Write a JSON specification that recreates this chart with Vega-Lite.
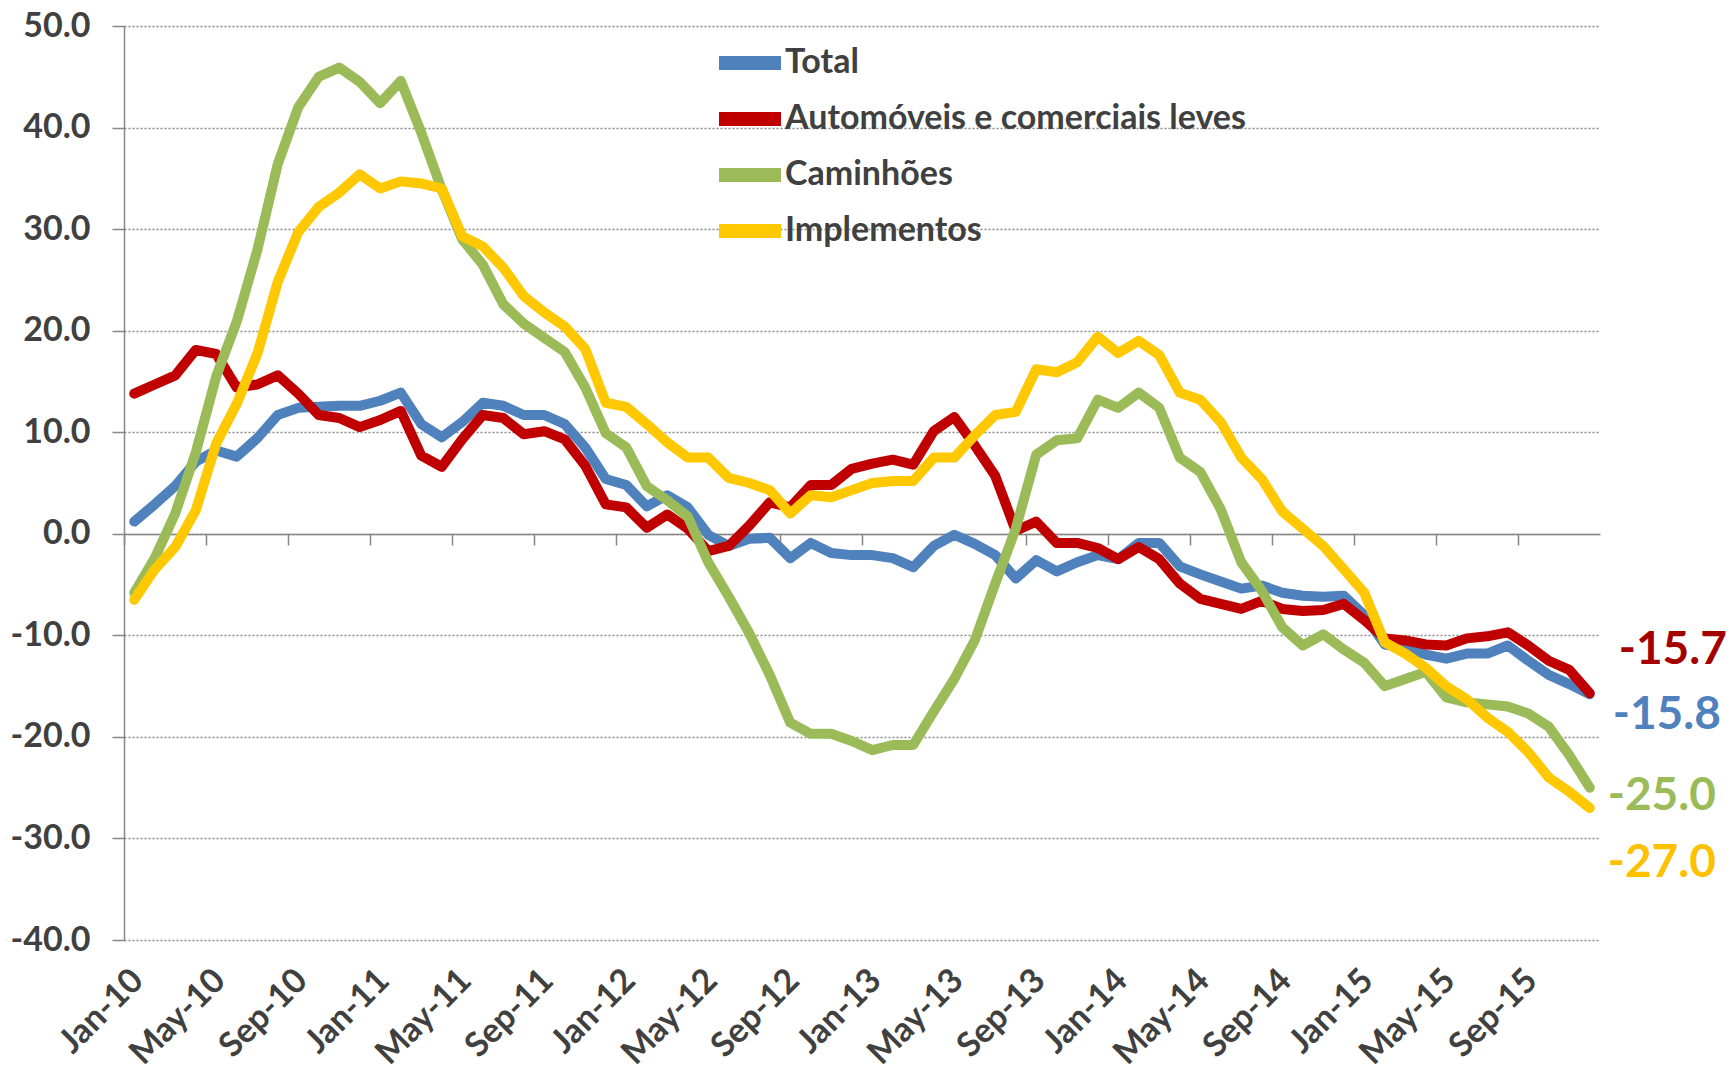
{
  "$schema": "https://vega.github.io/schema/vega-lite/v6.json",
  "width": 1476,
  "height": 914,
  "autosize": {"type": "none"},
  "padding": {"left": 124, "top": 26, "right": 131, "bottom": 131},
  "background": "white",
  "config": {"view": {"stroke": null}},
  "data": {"values": [
    {"m":"Jan-10","Total":1.2,"Automóveis e comerciais leves":13.8,"Caminhões":-5.8,"Implementos":-6.5},
    {"m":"Feb-10","Total":2.9,"Automóveis e comerciais leves":14.7,"Caminhões":-2.4,"Implementos":-3.5},
    {"m":"Mar-10","Total":4.7,"Automóveis e comerciais leves":15.6,"Caminhões":2.0,"Implementos":-1.3},
    {"m":"Apr-10","Total":7.1,"Automóveis e comerciais leves":18.1,"Caminhões":8.0,"Implementos":2.3},
    {"m":"May-10","Total":8.2,"Automóveis e comerciais leves":17.7,"Caminhões":15.5,"Implementos":8.9},
    {"m":"Jun-10","Total":7.6,"Automóveis e comerciais leves":14.4,"Caminhões":20.9,"Implementos":12.8},
    {"m":"Jul-10","Total":9.4,"Automóveis e comerciais leves":14.7,"Caminhões":27.9,"Implementos":17.7},
    {"m":"Aug-10","Total":11.7,"Automóveis e comerciais leves":15.6,"Caminhões":36.4,"Implementos":24.8},
    {"m":"Sep-10","Total":12.4,"Automóveis e comerciais leves":13.8,"Caminhões":42.0,"Implementos":29.7},
    {"m":"Oct-10","Total":12.5,"Automóveis e comerciais leves":11.7,"Caminhões":45.0,"Implementos":32.2},
    {"m":"Nov-10","Total":12.6,"Automóveis e comerciais leves":11.4,"Caminhões":45.9,"Implementos":33.6},
    {"m":"Dec-10","Total":12.6,"Automóveis e comerciais leves":10.5,"Caminhões":44.5,"Implementos":35.4},
    {"m":"Jan-11","Total":13.1,"Automóveis e comerciais leves":11.2,"Caminhões":42.4,"Implementos":34.0},
    {"m":"Feb-11","Total":13.9,"Automóveis e comerciais leves":12.1,"Caminhões":44.6,"Implementos":34.7},
    {"m":"Mar-11","Total":10.8,"Automóveis e comerciais leves":7.7,"Caminhões":39.5,"Implementos":34.5},
    {"m":"Apr-11","Total":9.5,"Automóveis e comerciais leves":6.6,"Caminhões":33.9,"Implementos":34.0},
    {"m":"May-11","Total":11.0,"Automóveis e comerciais leves":9.3,"Caminhões":29.0,"Implementos":29.3},
    {"m":"Jun-11","Total":12.9,"Automóveis e comerciais leves":11.7,"Caminhões":26.5,"Implementos":28.3},
    {"m":"Jul-11","Total":12.6,"Automóveis e comerciais leves":11.4,"Caminhões":22.6,"Implementos":26.2},
    {"m":"Aug-11","Total":11.7,"Automóveis e comerciais leves":9.8,"Caminhões":20.7,"Implementos":23.4},
    {"m":"Sep-11","Total":11.7,"Automóveis e comerciais leves":10.1,"Caminhões":19.3,"Implementos":21.8},
    {"m":"Oct-11","Total":10.8,"Automóveis e comerciais leves":9.3,"Caminhões":17.9,"Implementos":20.4},
    {"m":"Nov-11","Total":8.5,"Automóveis e comerciais leves":6.7,"Caminhões":14.4,"Implementos":18.2},
    {"m":"Dec-11","Total":5.4,"Automóveis e comerciais leves":2.9,"Caminhões":9.9,"Implementos":12.9},
    {"m":"Jan-12","Total":4.8,"Automóveis e comerciais leves":2.6,"Caminhões":8.5,"Implementos":12.5},
    {"m":"Feb-12","Total":2.7,"Automóveis e comerciais leves":0.6,"Caminhões":4.7,"Implementos":10.8},
    {"m":"Mar-12","Total":3.8,"Automóveis e comerciais leves":1.9,"Caminhões":3.3,"Implementos":9.0},
    {"m":"Apr-12","Total":2.6,"Automóveis e comerciais leves":0.5,"Caminhões":1.7,"Implementos":7.5},
    {"m":"May-12","Total":-0.1,"Automóveis e comerciais leves":-1.7,"Caminhões":-2.8,"Implementos":7.5},
    {"m":"Jun-12","Total":-1.2,"Automóveis e comerciais leves":-1.2,"Caminhões":-6.2,"Implementos":5.5},
    {"m":"Jul-12","Total":-0.5,"Automóveis e comerciais leves":0.8,"Caminhões":-9.8,"Implementos":5.0},
    {"m":"Aug-12","Total":-0.4,"Automóveis e comerciais leves":3.1,"Caminhões":-13.9,"Implementos":4.3},
    {"m":"Sep-12","Total":-2.4,"Automóveis e comerciais leves":2.6,"Caminhões":-18.6,"Implementos":2.0},
    {"m":"Oct-12","Total":-0.9,"Automóveis e comerciais leves":4.8,"Caminhões":-19.7,"Implementos":3.8},
    {"m":"Nov-12","Total":-1.9,"Automóveis e comerciais leves":4.8,"Caminhões":-19.7,"Implementos":3.6},
    {"m":"Dec-12","Total":-2.1,"Automóveis e comerciais leves":6.4,"Caminhões":-20.4,"Implementos":4.3},
    {"m":"Jan-13","Total":-2.1,"Automóveis e comerciais leves":6.9,"Caminhões":-21.3,"Implementos":5.0},
    {"m":"Feb-13","Total":-2.4,"Automóveis e comerciais leves":7.3,"Caminhões":-20.8,"Implementos":5.2},
    {"m":"Mar-13","Total":-3.3,"Automóveis e comerciais leves":6.8,"Caminhões":-20.8,"Implementos":5.2},
    {"m":"Apr-13","Total":-1.2,"Automóveis e comerciais leves":10.1,"Caminhões":-17.5,"Implementos":7.5},
    {"m":"May-13","Total":-0.1,"Automóveis e comerciais leves":11.5,"Caminhões":-14.3,"Implementos":7.5},
    {"m":"Jun-13","Total":-1.0,"Automóveis e comerciais leves":8.7,"Caminhões":-10.5,"Implementos":9.7},
    {"m":"Jul-13","Total":-2.1,"Automóveis e comerciais leves":5.7,"Caminhões":-4.9,"Implementos":11.7},
    {"m":"Aug-13","Total":-4.4,"Automóveis e comerciais leves":0.3,"Caminhões":0.5,"Implementos":12.0},
    {"m":"Sep-13","Total":-2.6,"Automóveis e comerciais leves":1.2,"Caminhões":7.8,"Implementos":16.2},
    {"m":"Oct-13","Total":-3.7,"Automóveis e comerciais leves":-0.9,"Caminhões":9.2,"Implementos":15.9},
    {"m":"Nov-13","Total":-2.8,"Automóveis e comerciais leves":-0.9,"Caminhões":9.4,"Implementos":16.9},
    {"m":"Dec-13","Total":-2.1,"Automóveis e comerciais leves":-1.4,"Caminhões":13.2,"Implementos":19.4},
    {"m":"Jan-14","Total":-2.5,"Automóveis e comerciais leves":-2.5,"Caminhões":12.4,"Implementos":17.8},
    {"m":"Feb-14","Total":-0.9,"Automóveis e comerciais leves":-1.3,"Caminhões":13.9,"Implementos":19.0},
    {"m":"Mar-14","Total":-0.9,"Automóveis e comerciais leves":-2.5,"Caminhões":12.4,"Implementos":17.6},
    {"m":"Apr-14","Total":-3.2,"Automóveis e comerciais leves":-4.9,"Caminhões":7.5,"Implementos":13.9},
    {"m":"May-14","Total":-4.0,"Automóveis e comerciais leves":-6.4,"Caminhões":6.1,"Implementos":13.2},
    {"m":"Jun-14","Total":-4.7,"Automóveis e comerciais leves":-6.9,"Caminhões":2.4,"Implementos":11.0},
    {"m":"Jul-14","Total":-5.4,"Automóveis e comerciais leves":-7.4,"Caminhões":-2.8,"Implementos":7.5},
    {"m":"Aug-14","Total":-5.1,"Automóveis e comerciais leves":-6.6,"Caminhões":-5.6,"Implementos":5.4},
    {"m":"Sep-14","Total":-5.8,"Automóveis e comerciais leves":-7.4,"Caminhões":-9.2,"Implementos":2.2},
    {"m":"Oct-14","Total":-6.1,"Automóveis e comerciais leves":-7.6,"Caminhões":-11.0,"Implementos":0.5},
    {"m":"Nov-14","Total":-6.2,"Automóveis e comerciais leves":-7.5,"Caminhões":-9.9,"Implementos":-1.2},
    {"m":"Dec-14","Total":-6.1,"Automóveis e comerciais leves":-6.9,"Caminhões":-11.4,"Implementos":-3.5},
    {"m":"Jan-15","Total":-8.0,"Automóveis e comerciais leves":-8.5,"Caminhões":-12.7,"Implementos":-5.8},
    {"m":"Feb-15","Total":-10.9,"Automóveis e comerciais leves":-10.3,"Caminhões":-15.0,"Implementos":-10.7},
    {"m":"Mar-15","Total":-11.2,"Automóveis e comerciais leves":-10.5,"Caminhões":-14.3,"Implementos":-11.8},
    {"m":"Apr-15","Total":-11.9,"Automóveis e comerciais leves":-10.9,"Caminhões":-13.6,"Implementos":-13.2},
    {"m":"May-15","Total":-12.3,"Automóveis e comerciais leves":-11.0,"Caminhões":-16.1,"Implementos":-15.0},
    {"m":"Jun-15","Total":-11.8,"Automóveis e comerciais leves":-10.3,"Caminhões":-16.6,"Implementos":-16.3},
    {"m":"Jul-15","Total":-11.8,"Automóveis e comerciais leves":-10.1,"Caminhões":-16.8,"Implementos":-18.1},
    {"m":"Aug-15","Total":-11.0,"Automóveis e comerciais leves":-9.7,"Caminhões":-17.0,"Implementos":-19.5},
    {"m":"Sep-15","Total":-12.5,"Automóveis e comerciais leves":-11.0,"Caminhões":-17.7,"Implementos":-21.5},
    {"m":"Oct-15","Total":-13.9,"Automóveis e comerciais leves":-12.5,"Caminhões":-19.0,"Implementos":-24.0},
    {"m":"Nov-15","Total":-14.8,"Automóveis e comerciais leves":-13.4,"Caminhões":-21.8,"Implementos":-25.4},
    {"m":"Dec-15","Total":-15.8,"Automóveis e comerciais leves":-15.7,"Caminhões":-25.0,"Implementos":-27.0}
  ]},
  "transform": [
    {"fold": ["Total", "Automóveis e comerciais leves", "Caminhões", "Implementos"], "as": ["serie", "valor"]}
  ],
  "encoding": {
    "y": {
      "field": "valor", "type": "quantitative",
      "scale": {"domain": [-40, 50], "nice": false, "zero": false},
      "axis": {
        "title": null,
        "values": [-40, -30, -20, -10, 0, 10, 20, 30, 40, 50],
        "labelExpr": "(datum.value < 0 ? '-' : '') + format(abs(datum.value), '.1f')",
        "grid": true, "gridDash": [2, 2], "gridColor": "#8a8a8a", "gridWidth": 1.3,
        "domain": true, "domainColor": "#868686", "domainWidth": 1.5,
        "ticks": true, "tickSize": 12, "tickColor": "#868686", "tickWidth": 1.5,
        "labelFont": "Lato", "labelFontSize": 34, "labelFontWeight": "bold", "labelColor": "#404040",
        "labelPadding": 22
      }
    },
    "color": {
      "field": "serie", "type": "nominal",
      "scale": {
        "domain": ["Total", "Automóveis e comerciais leves", "Caminhões", "Implementos"],
        "range": ["#4F81BD", "#C00000", "#9BBB59", "#FFC800"]
      },
      "legend": {
        "orient": "none", "legendX": 588, "legendY": 9, "title": null, "padding": 0,
        "symbolType": "stroke", "symbolSize": 3844, "symbolStrokeWidth": 14,
        "labelFont": "Lato", "labelFontSize": 34, "labelFontWeight": "bold", "labelColor": "#404040",
        "labelOffset": -3, "labelLimit": 800, "rowPadding": 0, "clipHeight": 56, "direction": "vertical"
      }
    }
  },
  "resolve": {"axis": {"x": "independent"}},
  "layer": [
    {
      "transform": [{"filter": "datum.serie == 'Total'"}],
      "mark": {"type": "line", "strokeWidth": 10, "strokeJoin": "round", "strokeCap": "round"},
      "encoding": {
        "x": {
          "field": "m", "type": "ordinal", "sort": null, "bandPosition": 0.5,
          "scale": {"type": "band", "paddingInner": 0, "paddingOuter": 0},
          "axis": {
            "orient": "bottom", "title": null, "domain": false, "ticks": false, "grid": false,
            "values": ["Jan-10","May-10","Sep-10","Jan-11","May-11","Sep-11","Jan-12","May-12","Sep-12","Jan-13","May-13","Sep-13","Jan-14","May-14","Sep-14","Jan-15","May-15","Sep-15"],
            "bandPosition": 0.5, "labelAngle": -45, "labelAlign": "right", "labelBaseline": "middle",
            "labelPadding": 35, "labelOffset": 4, "labelOverlap": false,
            "labelFont": "Lato", "labelFontSize": 34, "labelFontWeight": "bold", "labelColor": "#404040"
          }
        }
      }
    },
    {
      "transform": [{"filter": "datum.serie == 'Automóveis e comerciais leves'"}],
      "mark": {"type": "line", "strokeWidth": 10, "strokeJoin": "round", "strokeCap": "round"},
      "encoding": {
        "x": {
          "field": "m", "type": "ordinal", "sort": null, "bandPosition": 0.5,
          "scale": {"type": "band", "paddingInner": 0, "paddingOuter": 0},
          "axis": {
            "orient": "bottom", "offset": -406, "title": null, "labels": false, "grid": false,
            "domain": true, "domainColor": "#868686", "domainWidth": 1.5,
            "ticks": true, "tickSize": 11, "tickColor": "#868686", "tickWidth": 1.5,
            "values": ["Jan-10","May-10","Sep-10","Jan-11","May-11","Sep-11","Jan-12","May-12","Sep-12","Jan-13","May-13","Sep-13","Jan-14","May-14","Sep-14","Jan-15","May-15","Sep-15"],
            "bandPosition": 0
          }
        }
      }
    },
    {
      "transform": [{"filter": "datum.serie == 'Caminhões'"}],
      "mark": {"type": "line", "strokeWidth": 10, "strokeJoin": "round", "strokeCap": "round"},
      "encoding": {
        "x": {"field": "m", "type": "ordinal", "sort": null, "bandPosition": 0.5,
              "scale": {"type": "band", "paddingInner": 0, "paddingOuter": 0}, "axis": null}
      }
    },
    {
      "transform": [{"filter": "datum.serie == 'Implementos'"}],
      "mark": {"type": "line", "strokeWidth": 10, "strokeJoin": "round", "strokeCap": "round"},
      "encoding": {
        "x": {"field": "m", "type": "ordinal", "sort": null, "bandPosition": 0.5,
              "scale": {"type": "band", "paddingInner": 0, "paddingOuter": 0}, "axis": null}
      }
    },
    {
      "transform": [
        {"filter": "datum.serie == 'Automóveis e comerciais leves' && datum.m == 'Dec-15'"},
        {"calculate": "(datum.valor < 0 ? '-' : '') + format(abs(datum.valor), '.1f')", "as": "lbl"}
      ],
      "mark": {"type": "text", "align": "left", "baseline": "middle", "dx": 29, "dy": -43,
               "font": "Lato", "fontSize": 46, "fontWeight": "bold"},
      "encoding": {
        "x": {"field": "m", "type": "ordinal", "sort": null, "bandPosition": 0.5,
              "scale": {"type": "band", "paddingInner": 0, "paddingOuter": 0}, "axis": null},
        "text": {"field": "lbl"},
        "color": {"value": "#A50000"}
      }
    },
    {
      "transform": [
        {"filter": "datum.serie == 'Total' && datum.m == 'Dec-15'"},
        {"calculate": "(datum.valor < 0 ? '-' : '') + format(abs(datum.valor), '.1f')", "as": "lbl"}
      ],
      "mark": {"type": "text", "align": "left", "baseline": "middle", "dx": 23, "dy": 21,
               "font": "Lato", "fontSize": 46, "fontWeight": "bold"},
      "encoding": {
        "x": {"field": "m", "type": "ordinal", "sort": null, "bandPosition": 0.5,
              "scale": {"type": "band", "paddingInner": 0, "paddingOuter": 0}, "axis": null},
        "text": {"field": "lbl"},
        "color": {"value": "#4F81BD"}
      }
    },
    {
      "transform": [
        {"filter": "datum.serie == 'Caminhões' && datum.m == 'Dec-15'"},
        {"calculate": "(datum.valor < 0 ? '-' : '') + format(abs(datum.valor), '.1f')", "as": "lbl"}
      ],
      "mark": {"type": "text", "align": "left", "baseline": "middle", "dx": 18, "dy": 8,
               "font": "Lato", "fontSize": 46, "fontWeight": "bold"},
      "encoding": {
        "x": {"field": "m", "type": "ordinal", "sort": null, "bandPosition": 0.5,
              "scale": {"type": "band", "paddingInner": 0, "paddingOuter": 0}, "axis": null},
        "text": {"field": "lbl"},
        "color": {"value": "#9BBB59"}
      }
    },
    {
      "transform": [
        {"filter": "datum.serie == 'Implementos' && datum.m == 'Dec-15'"},
        {"calculate": "(datum.valor < 0 ? '-' : '') + format(abs(datum.valor), '.1f')", "as": "lbl"}
      ],
      "mark": {"type": "text", "align": "left", "baseline": "middle", "dx": 18, "dy": 55,
               "font": "Lato", "fontSize": 46, "fontWeight": "bold"},
      "encoding": {
        "x": {"field": "m", "type": "ordinal", "sort": null, "bandPosition": 0.5,
              "scale": {"type": "band", "paddingInner": 0, "paddingOuter": 0}, "axis": null},
        "text": {"field": "lbl"},
        "color": {"value": "#FFC000"}
      }
    }
  ]
}
